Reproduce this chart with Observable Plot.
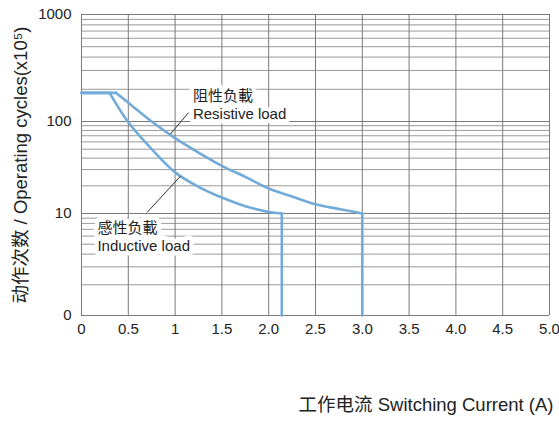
<!DOCTYPE html>
<html><head><meta charset="utf-8">
<script src="https://cdn.jsdelivr.net/npm/d3@7"></script>
<script src="https://cdn.jsdelivr.net/npm/@observablehq/plot@0.6"></script>
<style>body{margin:0;background:#fff}</style>
</head><body><div id="chart"></div>
<script>
const xTicks = [0, 0.5, 1, 1.5, 2, 2.5, 3, 3.5, 4, 4.5, 5];
const xTickLabels = ["0", "0.5", "1", "1.5", "2.0", "2.5", "3.0", "3.5", "4.0", "4.5", "5.0"];
const yTicks = [1, 10, 100, 1000];
const yTickLabels = ["0", "10", "100", "1000"];
const yMinor = [2,3,4,5,6,7,8,9,20,30,40,50,60,70,80,90,200,300,400,500,600,700,800,900];

const resistiveX = [0, 0.37, 0.5, 0.75, 1.0, 1.25, 1.5, 1.75, 2.0, 2.25, 2.5, 2.75, 3.0, 3.0];
const resistiveY = [185, 185, 150, 100, 66, 46, 33, 25, 18.7, 15.3, 12.6, 11.2, 10, 1];
const inductiveX = [0, 0.30, 0.5, 0.75, 1.0, 1.25, 1.5, 1.75, 2.0, 2.14, 2.14];
const inductiveY = [185, 185, 98, 50, 28, 19.5, 14.9, 12, 10.4, 10, 1];

const labelText = ["阻性负載\nResistive load", "感性负載\nInductive load"];
const labelX = [1.19, 0.17];
const labelY = [144, 6];
const leaderX1 = [0.95, 1.058];
const leaderY1 = [73, 25.5];
const leaderX2 = [1.143, 0.702];
const leaderY2 = [121, 10.3];

const xTitle = "工作电流 Switching Current (A)";
const yTitle = "动作次数 / Operating cycles(x10⁵)";

const toRows = (xs, ys) => xs.map((x, i) => ({x, y: ys[i]}));
const res = toRows(resistiveX, resistiveY);
const ind = toRows(inductiveX, inductiveY);
const seg = rows => ({plateau: rows.slice(0, 2), curve: rows.slice(1, rows.length - 1), drop: rows.slice(rows.length - 2)});
const series = [seg(res), seg(ind)];
const labels = labelText.map((t, i) => ({t, x: labelX[i], y: labelY[i]}));
const leaders = leaderX1.map((x1, i) => ({x1, y1: leaderY1[i], x2: leaderX2[i], y2: leaderY2[i]}));

const blue = "#72abd9";
const curveMarks = series.flatMap(s => [
  Plot.line(s.plateau, {x: "x", y: "y", stroke: blue, strokeWidth: 2.6}),
  Plot.line(s.curve, {x: "x", y: "y", stroke: blue, strokeWidth: 2.6, curve: "catmull-rom"}),
  Plot.line(s.drop, {x: "x", y: "y", stroke: blue, strokeWidth: 2.6})
]);

const chart = Plot.plot({
  width: 559,
  height: 423,
  marginTop: 14,
  marginLeft: 81,
  marginRight: 10,
  marginBottom: 108,
  style: {fontFamily: "'Liberation Sans', Arial, 'Noto Sans CJK SC', sans-serif", fontSize: "15px", color: "#222", background: "#fff"},
  x: {domain: [0, 5]},
  y: {type: "log", domain: [1, 10, 100, 1000], range: [315, 213, 121, 14]},
  marks: [
    Plot.ruleY(yMinor, {stroke: "#9a9a9a", strokeWidth: 1}),
    Plot.ruleY(yTicks, {stroke: "#7a7a7a", strokeWidth: 1}),
    Plot.ruleX(xTicks, {stroke: "#7a7a7a", strokeWidth: 1}),
    ...curveMarks,
    Plot.text(labels, {x: "x", y: "y", text: "t", textAnchor: "start", lineHeight: 1.2, fontSize: 15, fill: "#222", stroke: "white", strokeWidth: 9, paintOrder: "stroke"}),
    Plot.link(leaders, {x1: "x1", y1: "y1", x2: "x2", y2: "y2", stroke: "#333", strokeWidth: 1}),
    Plot.axisX({ticks: xTicks, tickFormat: d => xTickLabels[xTicks.indexOf(d)], tickSize: 0, tickPadding: 8, fontSize: 15, label: null}),
    Plot.axisY({ticks: yTicks, tickFormat: d => yTickLabels[yTicks.indexOf(d)], tickSize: 0, tickPadding: 10, fontSize: 15, label: null}),
    Plot.text([yTitle], {frameAnchor: "left", textAnchor: "middle", rotate: -90, dx: -60, fontSize: 18.5, fill: "#222"}),
    Plot.text([xTitle], {frameAnchor: "bottom-right", textAnchor: "end", dx: 4, dy: 95, fontSize: 18.5, fill: "#222"})
  ]
});
document.getElementById("chart").appendChild(chart);
</script>
</body></html>
